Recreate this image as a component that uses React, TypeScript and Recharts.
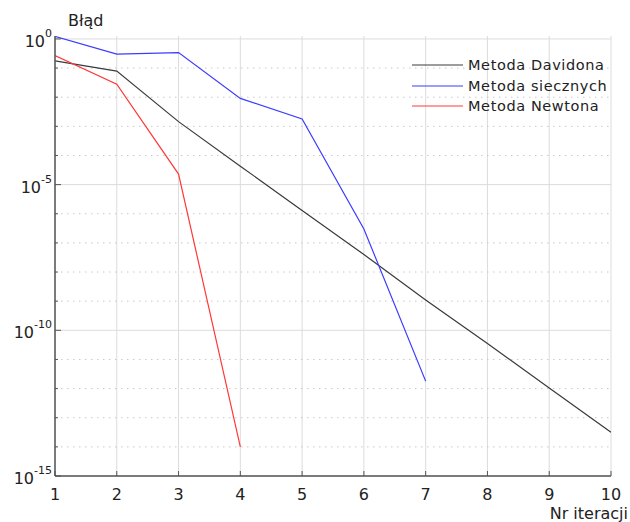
import React from 'react';
import { LineChart, Line, XAxis, YAxis, CartesianGrid, ReferenceLine, Legend } from 'recharts';

// iterations on the x axis
const iterations = [1, 2, 3, 4, 5, 6, 7, 8, 9, 10];

// error values
const davidon = [0.176, 0.079, 1.45e-3, 4.3e-5, 1.3e-6, 4.0e-8, 1.1e-9, 3.5e-11, 1.05e-12, 3.2e-14];
const secant = [1.22, 0.3, 0.34, 9.1e-3, 1.8e-3, 3.0e-7, 1.8e-12];
const newton = [0.27, 0.028, 2.3e-5, 1.0e-14];

const seriesNames = ['Metoda Davidona', 'Metoda siecznych', 'Metoda Newtona'];

const decades = [1e-15, 1e-14, 1e-13, 1e-12, 1e-11, 1e-10, 1e-9, 1e-8, 1e-7, 1e-6, 1e-5, 1e-4, 1e-3, 1e-2, 1e-1, 1];
const labelledExp = [0, -5, -10, -15];

const rows = iterations.map((it, i) => ({
  it,
  davidon: davidon[i] ?? null,
  secant: secant[i] ?? null,
  newton: newton[i] ?? null,
}));

const FONT = '"DejaVu Sans", sans-serif';
const TEXT = '#222';
const AXIS = '#555';

const expOf = (v: number) => Math.round(Math.log10(v));

const YTick = (props: any) => {
  const { x, y, payload } = props;
  const e = expOf(payload.value);
  const major = labelledExp.includes(e);
  return (
    <g>
      <line x1={x} x2={x + (major ? 6 : 3)} y1={y} y2={y} stroke={AXIS} strokeWidth={1} />
      {major && (
        <text x={x - 3} y={y + 8} textAnchor="end" fontFamily={FONT} fill={TEXT} fontSize={16}>
          10
          <tspan fontSize={11} dy={-10}>{e}</tspan>
        </text>
      )}
    </g>
  );
};

const XTick = (props: any) => {
  const { x, y, payload } = props;
  return (
    <g>
      <line x1={x} x2={x} y1={y} y2={y - 5} stroke={AXIS} strokeWidth={1} />
      <text x={x} y={y + 24} textAnchor="middle" fontFamily={FONT} fill={TEXT} fontSize={16}>
        {payload.value}
      </text>
    </g>
  );
};

const LegendBox = (props: any) => {
  const items = [...(props.payload || [])].sort(
    (a: any, b: any) => seriesNames.indexOf(a.value) - seriesNames.indexOf(b.value)
  );
  return (
    <div style={{ fontFamily: FONT, fontSize: 14.5, color: TEXT }}>
      {items.map((p: any) => (
        <div key={p.value} style={{ display: 'flex', alignItems: 'center', height: 20.5 }}>
          <svg width={56} height={4}>
            <line x1={0} x2={51} y1={2} y2={2} stroke={p.color} strokeWidth={1} />
          </svg>
          <span style={{ letterSpacing: 0.6, whiteSpace: 'nowrap' }}>{p.value}</span>
        </div>
      ))}
    </div>
  );
};

export default function App() {
  return (
    <div style={{ position: 'absolute', left: 0, top: 0, width: 630, height: 522, background: '#fff' }}>
      <LineChart width={630} height={522} data={rows} margin={{ top: 36, right: 19, left: 0, bottom: 0 }}>
        <CartesianGrid horizontal={false} stroke="#dcdcdc" strokeWidth={1} />
        {decades.map((d) => (
          <ReferenceLine
            key={d}
            y={d}
            stroke={labelledExp.includes(expOf(d)) ? '#dcdcdc' : '#c8c8c8'}
            strokeDasharray={labelledExp.includes(expOf(d)) ? undefined : '1.5 4.5'}
            strokeWidth={1}
          />
        ))}
        <XAxis
          dataKey="it"
          type="number"
          domain={[1, 10]}
          ticks={iterations}
          allowDataOverflow
          height={46}
          tickSize={0}
          tickMargin={0}
          tickLine={false}
          axisLine={{ stroke: AXIS, strokeWidth: 1.5 }}
          tick={<XTick />}
        />
        <YAxis
          scale="log"
          type="number"
          domain={[1e-15, 1.26]}
          ticks={decades}
          allowDataOverflow
          width={55}
          tickSize={0}
          tickMargin={0}
          tickLine={false}
          interval={0}
          axisLine={{ stroke: AXIS, strokeWidth: 1.5 }}
          tick={<YTick />}
        />
        <Legend
          layout="vertical"
          verticalAlign="middle"
          align="center"
          wrapperStyle={{ top: 55, left: 412, width: 220 }}
          content={<LegendBox />}
        />
        <Line name={seriesNames[0]} dataKey="davidon" stroke="#3a3a3a" strokeWidth={1.2} dot={false} isAnimationActive={false} />
        <Line name={seriesNames[1]} dataKey="secant" stroke="#3c3cff" strokeWidth={1.2} dot={false} isAnimationActive={false} />
        <Line name={seriesNames[2]} dataKey="newton" stroke="#ff3838" strokeWidth={1.2} dot={false} isAnimationActive={false} />
        <text x={68} y={26} fontFamily={FONT} fontSize={16} fill={TEXT}>Błąd</text>
        <text x={628} y={519} textAnchor="end" fontFamily={FONT} fontSize={16} fill={TEXT}>Nr iteracji</text>
      </LineChart>
    </div>
  );
}
